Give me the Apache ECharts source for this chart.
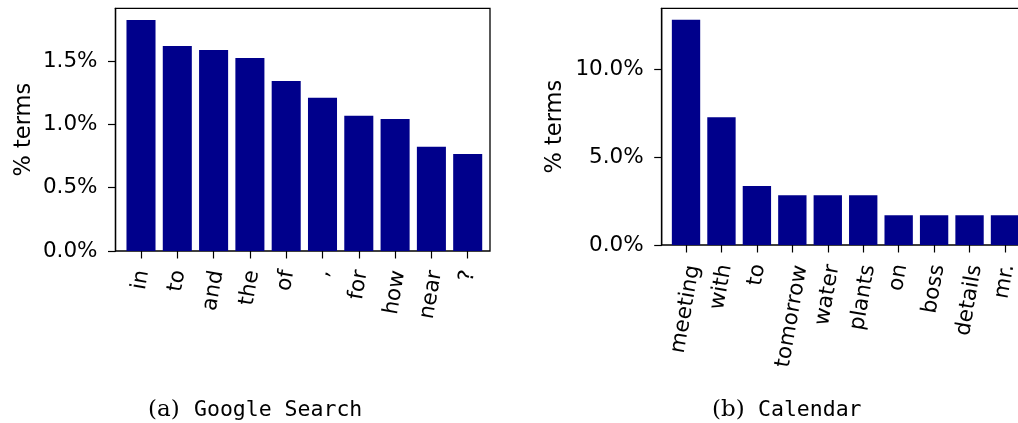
<!DOCTYPE html>
<html>
<head>
<meta charset="utf-8">
<script src="https://cdn.jsdelivr.net/npm/echarts@6/dist/echarts.min.js"></script>
<style>
  html, body { margin: 0; padding: 0; background: #fff; }
  #chart { width: 1018px; height: 423px; }
</style>
</head>
<body>
<div id="chart"></div>
<script>
// (a) Google Search
const searchTerms = ['in', 'to', 'and', 'the', 'of', ',', 'for', 'how', 'near', '?'];
const searchShare = [1.824, 1.618, 1.587, 1.524, 1.342, 1.210, 1.068, 1.042, 0.823, 0.766];
const searchTicks = [0, 0.5, 1.0, 1.5];

// (b) Calendar
const calendarTerms = ['meeting', 'with', 'to', 'tomorrow', 'water', 'plants', 'on', 'boss', 'details', 'mr.'];
const calendarShare = [12.80, 7.26, 3.35, 2.82, 2.82, 2.82, 1.69, 1.69, 1.69, 1.69];
const calendarTicks = [0, 5, 10];

const FONT = 'DejaVu Sans';
const SIZE = 21.5;
const ROT = 80;
const TICK = 7.5;

// matplotlib centres the rotated label box on the tick; echarts pins the text end there.
// push each label down (in its own frame) by half of its horizontal lean to mimic that.
const ctx = document.createElement('canvas').getContext('2d');
ctx.font = SIZE + 'px "' + FONT + '"';
function labelRich(words) {
  const lean = Math.cos(ROT * Math.PI / 180);
  const rich = {};
  words.forEach((w, i) => {
    const L = ctx.measureText(w).width;
    const dx = lean * L / 2;
    const b = dx * Math.sin(ROT * Math.PI / 180);
    rich['c' + i] = { padding: [2 * b, 0, 0, 0], fontFamily: FONT, fontSize: SIZE, color: '#000' };
  });
  return rich;
}

const pct = v => v.toFixed(1) + '%';
const black = '#000';

function frameGrid(left, top, width, height) {
  return { left, top, width, height, show: true, borderColor: black, borderWidth: 1.3,
    backgroundColor: 'transparent', outerBoundsMode: 'none', containLabel: false };
}
function barGrid(left, top, width, height) {
  return { left, top, width, height, show: false, outerBoundsMode: 'none', containLabel: false };
}

function valueAxis(grid, max, ticks, nameGap, visible) {
  return {
    type: 'value', gridIndex: grid, min: 0, max: max, show: visible,
    name: visible ? '% terms' : '', nameLocation: 'middle', nameGap: nameGap, nameRotate: 90,
    nameMoveOverlap: false,
    nameTextStyle: { fontFamily: FONT, fontSize: 22.5, color: black },
    axisLine: { show: true, lineStyle: { color: black, width: 1.3 } },
    axisTick: { show: true, inside: false, length: TICK, customValues: ticks, lineStyle: { color: black, width: 1.2 } },
    axisLabel: { show: true, margin: 18, customValues: ticks, formatter: pct,
      fontFamily: FONT, fontSize: SIZE, color: black },
    splitLine: { show: false }
  };
}

function categoryAxis(grid, words) {
  return {
    type: 'category', gridIndex: grid, data: words, boundaryGap: true,
    axisLine: { show: false },
    axisTick: { show: true, alignWithLabel: true, length: TICK, lineStyle: { color: black, width: 1.2 } },
    axisLabel: { interval: 0, rotate: ROT, margin: 19, fontFamily: FONT, fontSize: SIZE, color: black,
      hideOverlap: false, rich: labelRich(words),
      formatter: (value, idx) => '{c' + idx + '|' + value + '}' },
    splitLine: { show: false }
  };
}
function hiddenX(grid) {
  return { type: 'value', gridIndex: grid, show: false, min: 0, max: 1 };
}

const chart = echarts.init(document.getElementById('chart'), null, { renderer: 'canvas' });

const capRich = {
  s: { fontFamily: 'DejaVu Serif', fontSize: 23, fontWeight: 'normal', color: black, width: 46 },
  m: { fontFamily: 'DejaVu Sans Mono', fontSize: 21.5, fontWeight: 'normal', color: black }
};

chart.setOption({
  animation: false,
  backgroundColor: '#fff',
  title: [
    { text: '{s|(a)}{m|Google Search}', left: 143, top: 394,
      textStyle: { fontWeight: 'normal', rich: capRich } },
    { text: '{s|(b)}{m|Calendar}', left: 707, top: 394,
      textStyle: { fontWeight: 'normal', rich: capRich } }
  ],
  grid: [
    frameGrid(115.5, 8.3, 374.5, 242.7),
    barGrid(122.85, 8.3, 363, 242.7),
    frameGrid(661.7, 8.3, 380, 236.7),
    barGrid(668.3, 8.3, 354.4, 236.7)
  ],
  xAxis: [
    hiddenX(0),
    categoryAxis(1, searchTerms),
    hiddenX(2),
    categoryAxis(3, calendarTerms)
  ],
  yAxis: [
    valueAxis(0, 1.916, searchTicks, 80, true),
    valueAxis(1, 1.916, searchTicks, 80, false),
    valueAxis(2, 13.45, calendarTicks, 95, true),
    valueAxis(3, 13.45, calendarTicks, 95, false)
  ],
  series: [
    { type: 'bar', xAxisIndex: 1, yAxisIndex: 1, data: searchShare, barWidth: '80%',
      itemStyle: { color: '#00008b' } },
    { type: 'bar', xAxisIndex: 3, yAxisIndex: 3, data: calendarShare, barWidth: '80%',
      itemStyle: { color: '#00008b' } }
  ]
});
</script>
</body>
</html>
